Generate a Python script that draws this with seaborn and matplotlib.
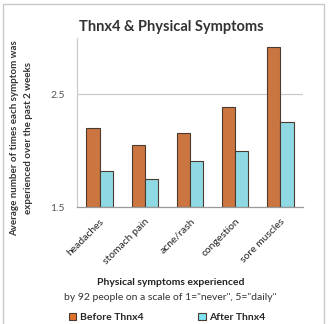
import matplotlib
matplotlib.use("Agg")
import matplotlib.pyplot as plt
from matplotlib.patches import Rectangle, Patch
import seaborn as sns
import pandas as pd

symptoms = ["headaches", "stomach pain", "acne/rash", "congestion", "sore muscles"]
before_vals = [2.20, 2.05, 2.16, 2.39, 2.92]
after_vals = [1.82, 1.75, 1.91, 2.00, 2.25]
series_names = ["Before Thnx4", "After Thnx4"]
y_ticks = [1.5, 2.5]

df = pd.DataFrame({
    "symptom": symptoms * 2,
    "value": before_vals + after_vals,
    "series": [series_names[0]] * len(symptoms) + [series_names[1]] * len(symptoms),
})

sns.set_theme(style="white")
plt.rcParams["font.family"] = ["Lato", "DejaVu Sans"]

colors = ["#E2712A", "#80E4F4"]
fig = plt.figure(figsize=(3.31, 3.24), dpi=100)
ax = fig.add_axes([0.2326, 0.361, 0.683, 0.522])

sns.barplot(data=df, x="symptom", y="value", hue="series", palette=colors,
            width=0.58, gap=0, edgecolor="#4a3a30", linewidth=0.8,
            ax=ax, legend=False, errorbar=None)
# bars start from the axis floor rather than zero
for bar in ax.patches:
    h = bar.get_height()
    bar.set_y(1.5)
    bar.set_height(h - 1.5)

ax.set_ylim(1.5, 3.0)
ax.set_xlim(-0.5, len(symptoms) - 0.5)
ax.set_yticks(y_ticks)
ax.set_yticklabels([f"{t:.1f}" for t in y_ticks], fontsize=7.5, color="#555555")
ax.tick_params(axis="y", length=0, pad=9)
ax.tick_params(axis="x", length=0, pad=7)
ax.set_xticks(range(len(symptoms)))
ax.set_xticklabels(symptoms, rotation=45, ha="right", rotation_mode="anchor",
                   fontsize=7.5, color="#222222")
ax.axhline(2.5, color="#cccccc", lw=0.9, zorder=0)
for side in ["top", "right"]:
    ax.spines[side].set_visible(False)
ax.spines["left"].set_color("#cccccc")
ax.spines["bottom"].set_color("#999999")
ax.spines["left"].set_linewidth(0.9)
ax.spines["bottom"].set_linewidth(0.9)
ax.set_xlabel("")
ax.set_ylabel("")

fig.text(0.517, 0.917, "Thnx4 & Physical Symptoms", ha="center", va="center",
         fontsize=10.5, fontweight="bold", color="#333333")
fig.text(0.045, 0.575, "Average number of times each symptom was",
         rotation=90, ha="center", va="center", fontsize=7, fontweight="bold", color="#333333")
fig.text(0.085, 0.575, "experienced over the past 2 weeks",
         rotation=90, ha="center", va="center", fontsize=7, fontweight="bold", color="#333333")
fig.text(0.515, 0.128, "Physical symptoms experienced", ha="center", va="center",
         fontsize=7.5, fontweight="bold", color="#222222")
fig.text(0.515, 0.083, 'by 92 people on a scale of 1="never", 5="daily"', ha="center",
         va="center", fontsize=7.5, color="#333333")

handles = [Patch(facecolor=c, edgecolor="#4a3a30", linewidth=0.8) for c in colors]
leg = fig.legend(handles, series_names, loc="center", bbox_to_anchor=(0.505, 0.02),
                 ncol=2, frameon=False, handlelength=0.7, handleheight=0.7,
                 handletextpad=0.3, columnspacing=5.3,
                 prop={"family": ["Lato", "DejaVu Sans"], "weight": "bold", "size": 7.5})

fig.patches.append(Rectangle((3 / 331, -0.05), 321 / 331, 1.05 - 4 / 324,
                             transform=fig.transFigure, fill=False,
                             edgecolor="#c8c8c8", lw=1.0))

fig.savefig("out.png", dpi=100, facecolor="white")
